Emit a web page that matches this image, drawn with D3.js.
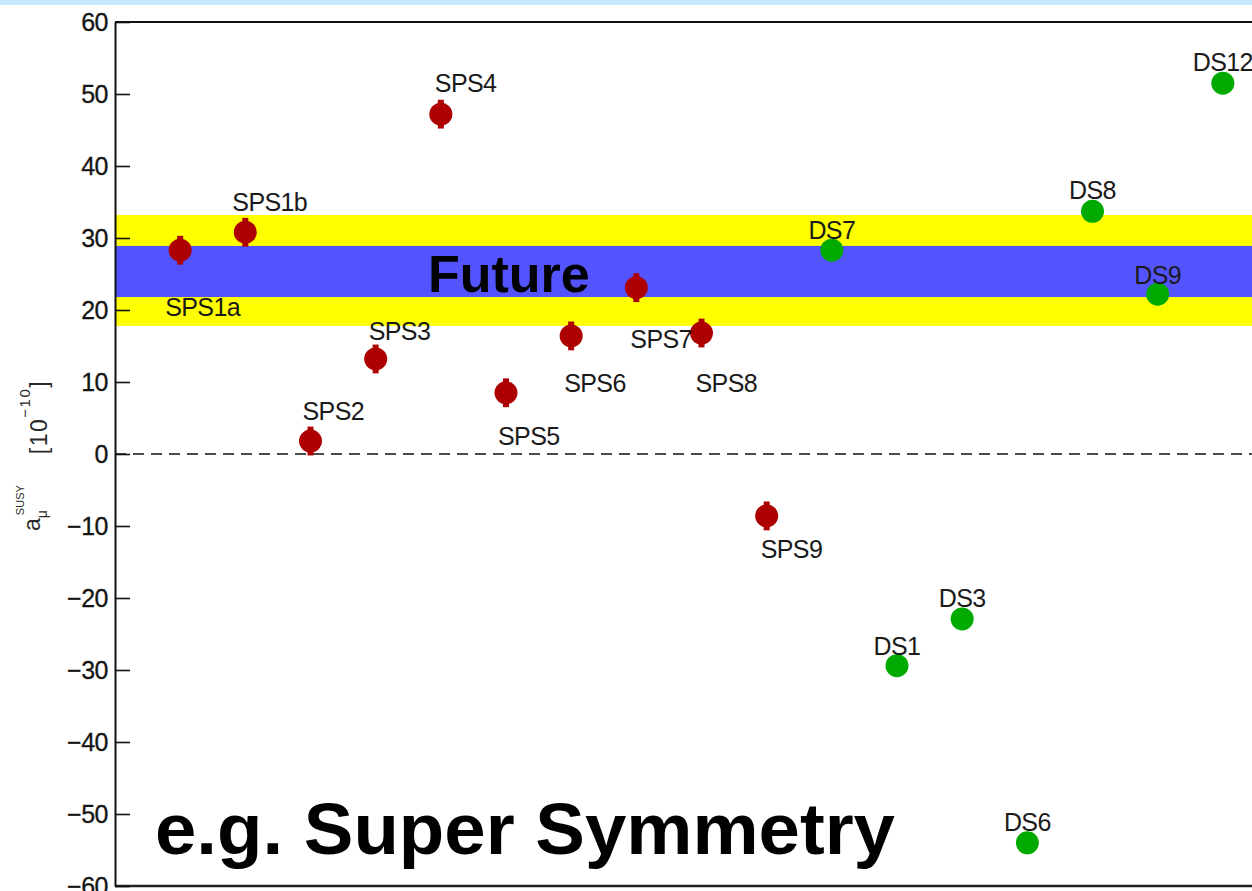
<!DOCTYPE html>
<html>
<head>
<meta charset="utf-8">
<script src="https://cdn.jsdelivr.net/npm/d3@7"></script>
<style>
  html, body { margin: 0; padding: 0; background: #fff; }
  svg { display: block; font-family: "Liberation Sans", Arial, Helvetica, sans-serif; }
</style>
</head>
<body>
<svg id="chart" width="1252" height="891"></svg>
<script>
// Benchmark points and their SUSY contribution to the muon g-2, in units of 1e-10
const categories = ["SPS1a", "SPS1b", "SPS2", "SPS3", "SPS4", "SPS5", "SPS6", "SPS7", "SPS8", "SPS9",
                    "DS7", "DS1", "DS3", "DS6", "DS8", "DS9", "DS12"];
const values = [28.3, 30.8, 1.8, 13.2, 47.2, 8.5, 16.4, 23.1, 16.8, -8.6,
                28.3, -29.4, -22.9, -54.0, 33.7, 22.2, 51.5];
const errors = [2.0, 2.0, 2.0, 2.0, 2.0, 2.0, 2.0, 2.0, 2.0, 2.0,
                0, 0, 0, 0, 0, 0, 0];
const yTicks = [-60, -50, -40, -30, -20, -10, 0, 10, 20, 30, 40, 50, 60];
// Projected sensitivity of a future measurement: outer and inner bands
const futureOuter = [17.8, 33.2];
const futureInner = [21.8, 28.9];

const W = 1252, H = 891;
const plot = { left: 115, top: 22, bottom: 886, right: 1288 };

const svg = d3.select("#chart");

const x = d3.scalePoint().domain(categories).range([plot.left, plot.right]).padding(1);
const y = d3.scaleLinear().domain([-60, 60]).range([plot.bottom, plot.top]);

// light header strip
svg.append("rect").attr("x", 0).attr("y", 0).attr("width", W).attr("height", 5).attr("fill", "#c6e9fb");

// future sensitivity bands
svg.append("rect")
  .attr("x", plot.left).attr("width", W - plot.left)
  .attr("y", y(futureOuter[1])).attr("height", y(futureOuter[0]) - y(futureOuter[1]))
  .attr("fill", "#ffff00");
svg.append("rect")
  .attr("x", plot.left).attr("width", W - plot.left)
  .attr("y", y(futureInner[1])).attr("height", y(futureInner[0]) - y(futureInner[1]))
  .attr("fill", "#5454ff");

svg.append("text")
  .attr("x", 428).attr("y", y(22.5))
  .attr("font-size", 52).attr("font-weight", "bold").attr("fill", "#000")
  .text("Future");

// zero line
svg.append("line")
  .attr("x1", plot.left).attr("x2", W)
  .attr("y1", y(0)).attr("y2", y(0))
  .attr("stroke", "#111").attr("stroke-width", 1.6)
  .attr("stroke-dasharray", "11,7");

// frame
svg.append("line").attr("x1", plot.left).attr("x2", W).attr("y1", plot.top).attr("y2", plot.top)
  .attr("stroke", "#111").attr("stroke-width", 2);
svg.append("line").attr("x1", plot.left).attr("x2", W).attr("y1", plot.bottom).attr("y2", plot.bottom)
  .attr("stroke", "#222").attr("stroke-width", 2.5);

// left axis with inward ticks
const axis = svg.append("g")
  .attr("transform", `translate(${plot.left},0)`)
  .call(d3.axisLeft(y).tickValues(yTicks).tickSize(-15).tickSizeOuter(0).tickPadding(7));
axis.select(".domain").attr("stroke", "#111").attr("stroke-width", 2);
axis.selectAll(".tick line").attr("stroke", "#111").attr("stroke-width", 1.6);
axis.selectAll(".tick text")
  .attr("font-size", 25).attr("fill", "#151515")
  .attr("stroke", "#151515").attr("stroke-width", 0.3)
  .attr("font-family", "'Liberation Sans', Arial, sans-serif")
  .attr("letter-spacing", -0.5);

// y-axis title: a_mu^SUSY [10^-10]
const yt = svg.append("text")
  .attr("transform", "translate(40,531) rotate(-90)")
  .attr("fill", "#2a2a2a");
yt.append("tspan").attr("font-size", 23).text("a");
yt.append("tspan").attr("font-size", 14).attr("dy", 7).text("μ");
yt.append("tspan").attr("font-size", 11).attr("dx", -5).attr("dy", -23).text("SUSY");
yt.append("tspan").attr("font-size", 23).attr("dx", 31).attr("dy", 23).attr("letter-spacing", 1.5).text("[10");
yt.append("tspan").attr("font-size", 15).attr("dy", -17).attr("letter-spacing", 1.5).text("−10");
yt.append("tspan").attr("font-size", 23).attr("dy", 17).text("]");

// points
const pts = categories.map((c, i) => ({ name: c, v: values[i], e: errors[i], sps: c.startsWith("SPS") }));

svg.append("g").selectAll("rect").data(pts.filter(d => d.e > 0)).join("rect")
  .attr("x", d => x(d.name) - 3).attr("width", 6)
  .attr("y", d => y(d.v + d.e)).attr("height", d => y(d.v - d.e) - y(d.v + d.e))
  .attr("fill", "#ad0000");

svg.append("g").selectAll("circle").data(pts).join("circle")
  .attr("cx", d => x(d.name)).attr("cy", d => y(d.v)).attr("r", 11.5)
  .attr("fill", d => d.sps ? "#ad0000" : "#00aa00");

// point labels: [dx, dy] from the marker centre, and anchor
const labelPlacement = {
  SPS1a: [-15, 66, "start"], SPS1b: [-13, -21, "start"], SPS2: [-8, -21, "start"],
  SPS3: [-7, -19, "start"], SPS4: [-6, -22, "start"], SPS5: [-8, 52, "start"],
  SPS6: [-7, 56, "start"], SPS7: [-6, 60, "start"], SPS8: [-6, 59, "start"],
  SPS9: [-6, 42, "start"],
  DS7: [0, -11, "middle"], DS1: [0, -11, "middle"], DS3: [0, -12, "middle"],
  DS6: [0, -12, "middle"], DS8: [0, -12, "middle"], DS9: [0, -10, "middle"],
  DS12: [0, -12, "middle"]
};

svg.append("g").selectAll("text").data(pts).join("text")
  .attr("x", d => x(d.name) + labelPlacement[d.name][0])
  .attr("y", d => y(d.v) + labelPlacement[d.name][1])
  .attr("text-anchor", d => labelPlacement[d.name][2])
  .attr("font-size", 25).attr("fill", "#1a1a1a").attr("letter-spacing", -0.6)
  .text(d => d.name);

// caption
svg.append("text")
  .attr("x", 155).attr("y", y(-55.6))
  .attr("font-size", 72).attr("font-weight", "bold").attr("fill", "#000")
  .attr("textLength", 740).attr("lengthAdjust", "spacingAndGlyphs")
  .text("e.g. Super Symmetry");
</script>
</body>
</html>
